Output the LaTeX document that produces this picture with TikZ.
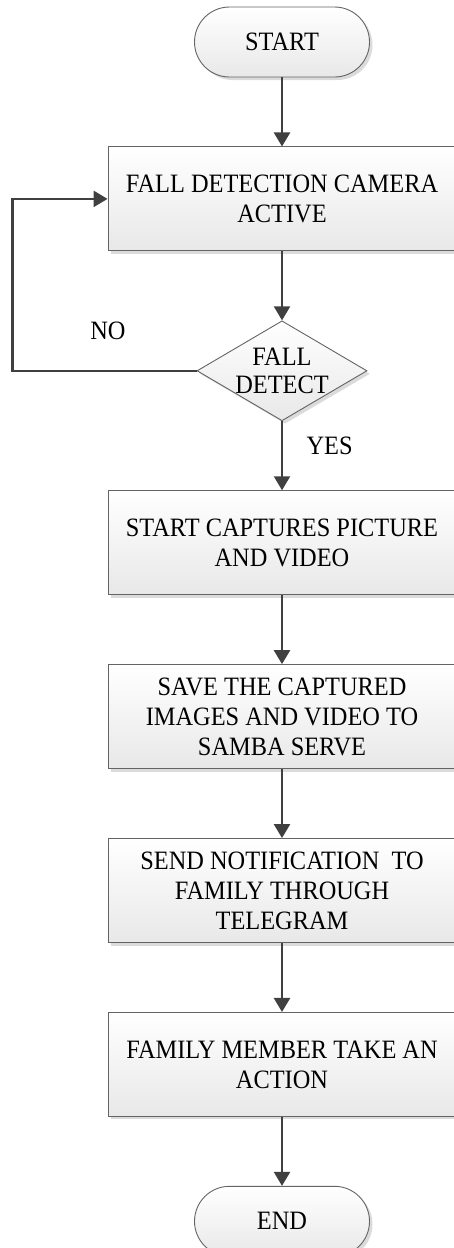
\documentclass[tikz,border=0pt]{standalone}
\definecolor{linegray}{RGB}{64,64,64}
\definecolor{edgegray}{RGB}{100,100,100}
\definecolor{fillgray}{RGB}{232,232,232}
\usepackage{fontspec}
\setmainfont[FakeStretch=0.92]{Liberation Serif}
\usepackage{tikz}
\usetikzlibrary{shapes,arrows.meta,positioning,calc,shadows}

\begin{document}
\begin{tikzpicture}[
        node distance=69pt,
        every node/.style={font=\fontsize{26.5}{30}\selectfont},
        boxbase/.style={draw=edgegray, line width=0.9pt, top color=white, bottom color=fillgray,
            drop shadow={shadow xshift=3pt, shadow yshift=-3pt, fill=black!14, opacity=1}},
        terminal/.style={boxbase, rounded corners=35pt, minimum width=175pt, minimum height=70pt},
        process/.style={boxbase, minimum width=348pt, minimum height=104pt, align=center, inner sep=0pt},
        decision/.style={boxbase, diamond, minimum width=170pt, minimum height=100pt, inner sep=0pt},
        flow/.style={draw=linegray, line width=2.4pt, -{Triangle[length=14pt,width=16pt]}}
    ]
            \useasboundingbox (0,0) rectangle (453pt,-1248pt);
            \node[terminal] (start) at (282pt,-42pt) {START};
            \node[process, below=of start] (camera) {FALL DETECTION CAMERA\\ACTIVE};
            \node[decision, below=of camera,
                label={[align=center, font=\fontsize{26.5}{28}\selectfont]center:FALL\\DETECT}] (detect) {};
            \node[process, below=of detect] (capture) {START CAPTURES PICTURE\\AND VIDEO};
            \node[process, below=of capture] (save) {SAVE THE CAPTURED\\IMAGES AND VIDEO TO\\SAMBA SERVE};
            \node[process, below=of save] (notify) {SEND NOTIFICATION\ \ TO\\FAMILY THROUGH\\TELEGRAM};
            \node[process, below=of notify] (action) {FAMILY MEMBER TAKE AN\\ACTION};
            \node[terminal, below=of action] (finish) {END};
            % main flow
            \draw[flow] (start) -- (camera);
            \draw[flow] (camera) -- (detect);
            \draw[flow] (detect) -- node[right=20pt, pos=0.35] (yes) {YES} (capture);
            \draw[flow] (capture) -- (save);
            \draw[flow] (save) -- (notify);
            \draw[flow] (notify) -- (action);
            \draw[flow] (action) -- (finish);
            % loop back
            \draw[flow] (detect.west) -- ++(-184pt,0) |- (camera.west);
            \node (no) at (108pt,-331pt) {NO};
        \end{tikzpicture}
\end{document}
